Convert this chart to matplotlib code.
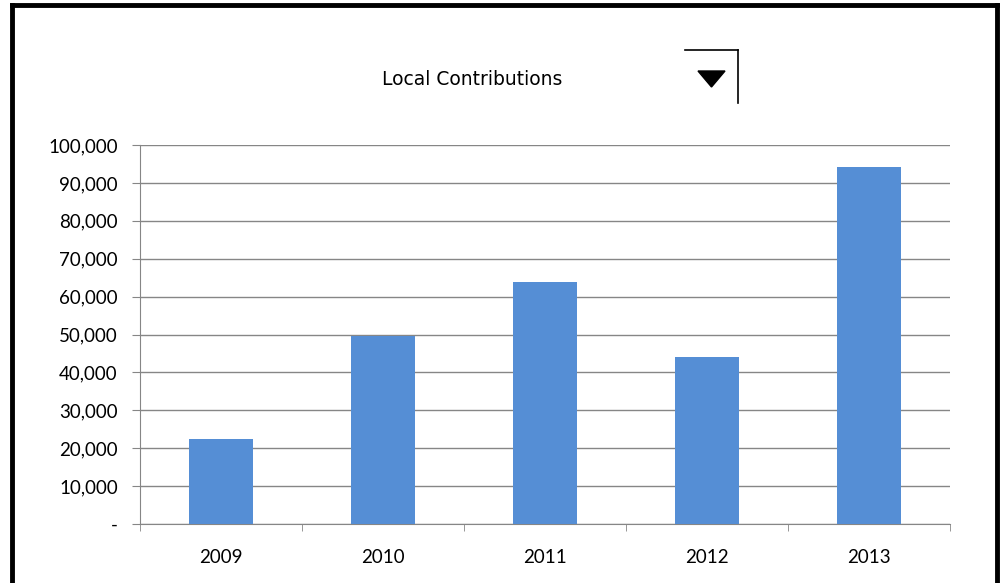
import matplotlib
matplotlib.use("Agg")
import matplotlib.pyplot as plt
from matplotlib.lines import Line2D
from matplotlib.patches import Polygon
from matplotlib.ticker import FuncFormatter

years = ["2009", "2010", "2011", "2012", "2013"]
contributions = [22400, 49700, 63850, 44100, 94300]
TITLE = "Local Contributions"

BAR_COLOR = "#558ed5"
GRID_COLOR = "#868686"


def fmt_thousands(v, pos):
    if v == 0:
        return "-"
    return f"{int(v):,}"


def main():
    W, H = 1005, 583
    fig = plt.figure(figsize=(W / 100, H / 100), dpi=100)
    ax = fig.add_axes([140 / W, 1 - 524 / H, 810 / W, 379 / H])

    x = range(len(years))
    ax.bar(x, contributions, width=0.4, color=BAR_COLOR, zorder=3)

    ax.set_xlim(-0.5, len(years) - 0.5)
    ax.set_ylim(0, 100000)
    ax.set_yticks(range(0, 100001, 10000))
    ax.yaxis.set_major_formatter(FuncFormatter(fmt_thousands))
    ax.set_xticks(list(x))
    ax.set_xticklabels(years)
    # category boundary ticks on x axis
    ax.set_xticks([i - 0.5 for i in range(len(years) + 1)], minor=True)
    ax.tick_params(axis="x", which="major", length=0, pad=18, labelsize=13.5)
    ax.tick_params(axis="x", which="minor", length=5, color=GRID_COLOR, direction="out")
    ax.tick_params(axis="y", length=6, color=GRID_COLOR, pad=10, labelsize=13.5)
    for lbl in ax.get_xticklabels() + ax.get_yticklabels():
        lbl.set_fontfamily("Lato")

    ax.grid(axis="y", color=GRID_COLOR, linewidth=1, zorder=0)
    for side in ("top", "right"):
        ax.spines[side].set_visible(False)
    ax.spines["left"].set_color(GRID_COLOR)
    ax.spines["bottom"].set_color(GRID_COLOR)

    fig.text(472 / W, 1 - 80 / H, TITLE, ha="center", va="center",
             fontsize=13.5, family="Liberation Sans Narrow")

    # outer frame (bottom edge is cut off)
    frame = dict(color="black", linewidth=3.5)
    fig.add_artist(Line2D([11.5 / W, 11.5 / W], [0, 1 - 4.5 / H], **frame))
    fig.add_artist(Line2D([11.5 / W, 997 / W], [1 - 4.5 / H, 1 - 4.5 / H], **frame))
    fig.add_artist(Line2D([997 / W, 997 / W], [0, 1 - 4.5 / H], **frame))

    # dropdown widget
    thin = dict(color="black", linewidth=1.2)
    fig.add_artist(Line2D([685 / W, 738 / W], [1 - 50 / H, 1 - 50 / H], **thin))
    fig.add_artist(Line2D([738 / W, 738 / W], [1 - 50 / H, 1 - 103 / H], **thin))
    tri = Polygon([(698 / W, 1 - 71 / H), (725 / W, 1 - 71 / H), (711.5 / W, 1 - 87 / H)],
                  closed=True, color="black", transform=fig.transFigure)
    fig.add_artist(tri)

    fig.savefig("out.png", dpi=100)
    plt.close(fig)


if __name__ == "__main__":
    main()
